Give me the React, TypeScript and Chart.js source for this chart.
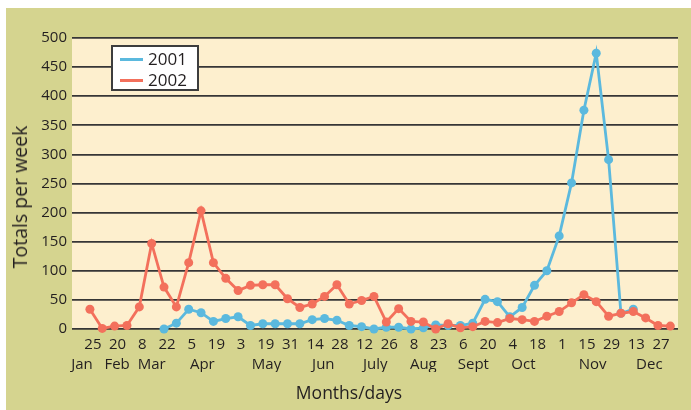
import React, { useEffect, useRef } from "react";
import { Chart, registerables } from "chart.js";

Chart.register(...registerables);

// Weekly totals (week index 0..47)
const totals2002: number[] = [
  34, 1, 5, 6, 38, 147, 72, 38, 114, 203, 114, 87, 66, 75, 76, 76, 52, 37, 43, 56,
  76, 43, 49, 56, 12, 35, 13, 12, 0, 9, 2, 4, 13, 11, 18, 16, 13, 22, 30, 45,
  59, 47, 22, 27, 30, 19, 6, 5,
];
const totals2001: (number | null)[] = [
  null, null, null, null, null, null, 0, 10, 34, 28, 13, 18, 21, 6, 9, 9, 9, 9, 16, 18,
  15, 6, 4, 0, 3, 3, 0, 2, 7, 6, 6, 10, 51, 47, 21, 37, 75, 100, 160, 251,
  376, 474, 291, 27, 34, null, null, null,
];

// Day tick labels, one every two weeks starting at week 0
const dayLabels: string[] = [
  "25", "20", "8", "22", "5", "19", "3", "19", "31", "14", "28", "12",
  "26", "8", "23", "6", "20", "4", "18", "1", "15", "29", "13", "27",
];
// Month labels and the week value each sits under
const monthLabels: string[] = ["Jan", "Feb", "Mar", "Apr", "May", "Jun", "July", "Aug", "Sept", "Oct", "Nov", "Dec"];
const monthWeeks: number[] = [-0.64, 2.2, 5.0, 9.1, 14.3, 18.9, 23.1, 27.0, 31.05, 35.1, 40.7, 45.3];

const yTicks = { min: 0, max: 500, step: 50 };

const FONT = "'Open Sans', 'Noto Sans', sans-serif";
const TEXT = "#231f20";
const KHAKI = "#d5d48f";
const PLOT_BG = "#fdefce";
const BLUE = "#5bb9de";
const RED = "#f3705c";

const plotBg = {
  id: "plotBg",
  beforeDraw(chart: any) {
    const { ctx, chartArea } = chart;
    ctx.save();
    ctx.fillStyle = PLOT_BG;
    ctx.fillRect(chartArea.left, chartArea.top, chartArea.right - chartArea.left, chartArea.bottom - chartArea.top);
    ctx.restore();
  },
};

export default function App() {
  const ref = useRef<HTMLCanvasElement | null>(null);

  useEffect(() => {
    if (!ref.current) return;
    const d2002 = totals2002.map((y, i) => ({ x: i, y }));
    const d2001 = totals2001
      .map((y, i) => ({ x: i, y }))
      .filter((p) => p.y !== null);

    const chart = new Chart(ref.current, {
      type: "line",
      data: {
        datasets: [
          {
            label: "2001",
            data: d2001 as any,
            borderColor: BLUE,
            backgroundColor: BLUE,
            pointBackgroundColor: BLUE,
            borderWidth: 2.8,
            pointRadius: 4.5,
            pointBorderWidth: 0,
            tension: 0,
            order: 1,
            clip: false as any,
          },
          {
            label: "2002",
            data: d2002 as any,
            borderColor: RED,
            backgroundColor: RED,
            pointBackgroundColor: RED,
            borderWidth: 2.8,
            pointRadius: 4.5,
            pointBorderWidth: 0,
            tension: 0,
            order: 0,
            clip: false as any,
          },
        ],
      },
      options: {
        animation: false,
        responsive: false,
        layout: { padding: { top: 30, right: 13, bottom: 38, left: 0 } },
        plugins: { legend: { display: false }, tooltip: { enabled: false } },
        scales: {
          x: {
            type: "linear",
            position: "bottom",
            min: -1.45,
            max: 47.62,
            bounds: "data",
            weight: 0,
            grid: { display: false, drawTicks: false },
            border: { display: false },
            afterBuildTicks: (axis: any) => {
              axis.ticks = dayLabels.map((_, i) => ({ value: i * 2 }));
            },
            afterFit: (axis: any) => {
              axis.height = 25;
            },
            ticks: {
              autoSkip: false,
              maxRotation: 0,
              padding: 7,
              labelOffset: 3,
              color: TEXT,
              font: { family: FONT, size: 15 },
              callback: (_v: any, i: number) => dayLabels[i],
            },
          },
          xMonth: {
            type: "linear",
            position: "bottom",
            min: -1.45,
            max: 47.62,
            bounds: "data",
            weight: 1,
            grid: { display: false, drawTicks: false },
            border: { display: false },
            afterBuildTicks: (axis: any) => {
              axis.ticks = monthWeeks.map((w) => ({ value: w }));
            },
            afterFit: (axis: any) => {
              axis.height = 18;
            },
            ticks: {
              autoSkip: false,
              maxRotation: 0,
              padding: 2,
              color: TEXT,
              font: { family: FONT, size: 15 },
              callback: (_v: any, i: number) => monthLabels[i],
            },
          },
          y: {
            min: yTicks.min,
            max: yTicks.max,
            afterFit: (axis: any) => {
              axis.width = 66;
            },
            grid: { color: "#363636", lineWidth: 1.8, drawTicks: false },
            border: { display: false },
            ticks: {
              stepSize: yTicks.step,
              padding: 5,
              color: TEXT,
              font: { family: FONT, size: 15 },
            },
          },
        },
      },
      plugins: [plotBg],
    } as any);
    return () => chart.destroy();
  }, []);

  return (
    <div
      style={{
        position: "absolute",
        left: 6,
        top: 8,
        width: 685,
        height: 402,
        background: KHAKI,
        fontFamily: FONT,
        color: TEXT,
      }}
    >
      <canvas ref={ref} width={685} height={402} style={{ display: "block" }} />
      <div
        style={{
          position: "absolute",
          left: 14,
          top: 189,
          transform: "translate(-50%, -50%) rotate(-90deg)",
          whiteSpace: "nowrap",
          fontSize: 19.5,
          lineHeight: "22px",
        }}
      >
        Totals per week
      </div>
      <div
        style={{
          position: "absolute",
          left: 343,
          top: 384,
          transform: "translate(-50%, -50%)",
          whiteSpace: "nowrap",
          fontSize: 17.5,
          lineHeight: "22px",
        }}
      >
        Months/days
      </div>
      <div
        style={{
          position: "absolute",
          left: 105,
          top: 37,
          width: 88,
          height: 46,
          boxSizing: "border-box",
          border: "2px solid #3d3d3d",
          background: "#ffffff",
        }}
      >
        {[
          { label: "2001", color: BLUE, cy: 12 },
          { label: "2002", color: RED, cy: 33 },
        ].map((r) => (
          <React.Fragment key={r.label}>
            <div
              style={{
                position: "absolute",
                left: 7,
                top: r.cy - 1.5,
                width: 23,
                height: 3,
                background: r.color,
              }}
            />
            <div
              style={{
                position: "absolute",
                left: 35,
                top: r.cy - 12,
                height: 24,
                lineHeight: "24px",
                fontSize: 17,
              }}
            >
              {r.label}
            </div>
          </React.Fragment>
        ))}
      </div>
    </div>
  );
}
